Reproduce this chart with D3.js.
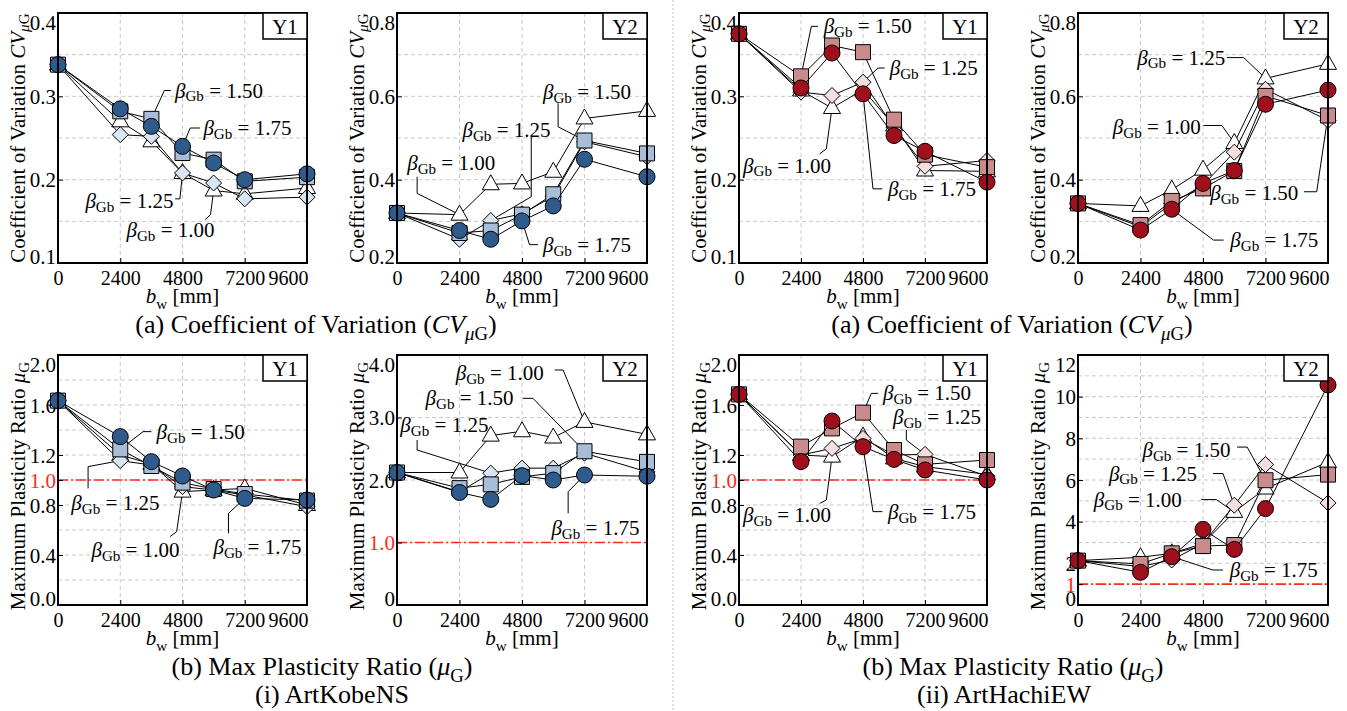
<!DOCTYPE html>
<html>
<head>
<meta charset="utf-8">
<script src="https://cdn.jsdelivr.net/npm/d3@7"></script>
<style>
 body{margin:0;background:#fff;}
 svg{display:block;font-family:"Liberation Serif","Times New Roman",serif;}
</style>
</head>
<body>
<div id="chartDiv"></div>
<script>
// x values (b_w, mm) shared by every panel
var bw = [0, 2400, 3600, 4800, 6000, 7200, 9600];
var bwTicks = [0, 2400, 4800, 7200, 9600];
// series order: beta_Gb = 1.00 (triangle), 1.25 (diamond), 1.50 (square), 1.75 (circle)
var betaGb = ["1.00", "1.25", "1.50", "1.75"];

var kobeCvY1 = [
 [0.338, 0.270, 0.246, 0.208, 0.187, 0.183, 0.190],
 [0.338, 0.254, 0.252, 0.208, 0.196, 0.177, 0.179],
 [0.338, 0.282, 0.273, 0.232, 0.224, 0.198, 0.203],
 [0.338, 0.285, 0.264, 0.240, 0.220, 0.200, 0.207]];
var kobeCvY2 = [
 [0.320, 0.316, 0.389, 0.391, 0.419, 0.547, 0.565],
 [0.320, 0.257, 0.302, 0.318, 0.360, 0.491, 0.455],
 [0.320, 0.272, 0.278, 0.316, 0.365, 0.494, 0.463],
 [0.320, 0.278, 0.257, 0.301, 0.337, 0.449, 0.407]];
var hachiCvY1 = [
 [0.375, 0.307, 0.286, 0.308, 0.265, 0.211, 0.210],
 [0.375, 0.305, 0.301, 0.317, 0.263, 0.216, 0.223],
 [0.375, 0.324, 0.361, 0.353, 0.272, 0.230, 0.215],
 [0.375, 0.310, 0.352, 0.303, 0.253, 0.234, 0.197]];
var hachiCvY2 = [
 [0.343, 0.337, 0.376, 0.424, 0.488, 0.643, 0.678],
 [0.343, 0.287, 0.343, 0.387, 0.466, 0.617, 0.542],
 [0.343, 0.291, 0.349, 0.379, 0.421, 0.601, 0.554],
 [0.343, 0.279, 0.329, 0.391, 0.422, 0.581, 0.615]];
var kobeMuY1 = [
 [1.635, 1.200, 1.128, 0.907, 0.920, 0.933, 0.800],
 [1.635, 1.155, 1.120, 0.947, 0.920, 0.880, 0.787],
 [1.635, 1.245, 1.112, 0.979, 0.928, 0.888, 0.835],
 [1.635, 1.347, 1.147, 1.032, 0.920, 0.853, 0.840]];
var kobeMuY2 = [
 [2.12, 2.12, 2.71, 2.78, 2.68, 2.93, 2.73],
 [2.12, 1.81, 2.11, 2.19, 2.19, 2.43, 2.13],
 [2.12, 1.87, 1.93, 2.05, 2.11, 2.46, 2.29],
 [2.12, 1.80, 1.69, 2.07, 2.00, 2.08, 2.06]];
var hachiMuY1 = [
 [1.685, 1.200, 1.187, 1.347, 1.173, 1.107, 1.045],
 [1.685, 1.200, 1.253, 1.333, 1.200, 1.205, 1.030],
 [1.685, 1.267, 1.413, 1.539, 1.240, 1.125, 1.160],
 [1.685, 1.147, 1.472, 1.267, 1.165, 1.080, 1.000]];
var hachiMuY2 = [
 [2.13, 2.29, 2.48, 2.95, 4.47, 5.59, 6.86],
 [2.13, 1.85, 2.16, 2.95, 4.79, 6.74, 4.90],
 [2.13, 1.97, 2.48, 2.83, 2.88, 5.99, 6.26],
 [2.13, 1.57, 2.32, 3.63, 2.67, 4.63, 10.56]];

// y tick labels
var cvTicksY1 = ["0.1", "0.2", "0.3", "0.4"];
var cvTicksY2 = ["0.2", "0.4", "0.6", "0.8"];
var muTicks2 = ["0.0", "0.4", "0.8", "1.2", "1.6", "2.0"];
var muTicks4 = ["0", "2.0", "3.0", "4.0"];
var muTicks12 = ["0", "2", "4", "6", "8", "10", "12"];

// annotations: [beta label, text x, text y, anchor, leader points, series, point index]
var kobeCvY1Notes = [
 ["1.50", 4510, 0.307, "start", [[4350, 0.307], [4100, 0.307]], 2, 2],
 ["1.75", 5606, 0.262, "start", [[5470, 0.262], [5100, 0.262]], 3, 3],
 ["1.25", 4450, 0.174, "end", [[4520, 0.177], [4700, 0.177]], 1, 3],
 ["1.00", 2640, 0.140, "start", [[5670, 0.152], [5880, 0.158]], 0, 4]];
var kobeCvY2Notes = [
 ["1.50", 5606, 0.611, "start", [[6186, 0.583], [6186, 0.527]], 2, 5],
 ["1.25", 2513, 0.519, "start", [[5155, 0.503], [5155, 0.359]], 1, 2],
 ["1.00", 390, 0.439, "start", [[773, 0.407], [773, 0.367]], 0, 1],
 ["1.75", 5606, 0.244, "start", [[5412, 0.244], [5090, 0.244]], 3, 3]];
var hachiCvY1Notes = [
 ["1.50", 3277, 0.384, "start", [[3058, 0.384], [2800, 0.384]], 2, 1],
 ["1.25", 5832, 0.334, "start", [[5638, 0.334], [5380, 0.334]], 1, 3],
 ["1.00", 155, 0.217, "start", [[3122, 0.231], [3380, 0.237]], 0, 2],
 ["1.75", 5767, 0.189, "start", [[5548, 0.189], [5187, 0.189]], 3, 3]];
var hachiCvY2Notes = [
 ["1.25", 5655, 0.693, "end", [[5720, 0.693], [6362, 0.693]], 0, 5],
 ["1.00", 4717, 0.526, "end", [[4820, 0.530], [5527, 0.530]], 0, 4],
 ["1.50", 5077, 0.367, "start", [[8676, 0.371], [9165, 0.371]], 2, 6],
 ["1.75", 5848, 0.255, "start", [[5591, 0.255], [5205, 0.255]], 3, 2]];
var kobeMuY1Notes = [
 ["1.50", 3802, 1.387, "start", [[3601, 1.387], [3279, 1.387]], 2, 1],
 ["1.25", 515, 0.813, "start", [[1160, 0.933], [1160, 1.107]], 1, 1],
 ["1.00", 1289, 0.440, "start", [[4317, 0.547], [4575, 0.587]], 0, 3],
 ["1.75", 5992, 0.467, "start", [[6572, 0.573], [6572, 0.733]], 3, 5]];
var kobeMuY2Notes = [
 ["1.00", 2255, 3.707, "start", [[6057, 3.76], [6379, 3.76]], 0, 5],
 ["1.50", 1095, 3.307, "start", [[4832, 3.307], [5219, 3.307]], 2, 5],
 ["1.25", 129, 2.880, "start", [[773, 2.64], [773, 2.48]], 1, 2],
 ["1.75", 5928, 1.227, "start", [[6572, 1.467], [6572, 1.813]], 3, 5]];
var hachiMuY1Notes = [
 ["1.50", 5574, 1.693, "start", [[5381, 1.693], [5123, 1.693]], 2, 3],
 ["1.25", 5961, 1.507, "start", [[6477, 1.40], [6477, 1.32]], 1, 5],
 ["1.00", 155, 0.720, "start", [[3122, 0.813], [3380, 0.84]], 0, 2],
 ["1.75", 5767, 0.747, "start", [[5548, 0.747], [5187, 0.747]], 3, 3]];
var hachiMuY2Notes = [
 ["1.50", 2474, 7.42, "start", [[6108, 7.58], [6495, 7.58]], 2, 5],
 ["1.25", 1186, 6.31, "start", [[5181, 6.31], [5568, 6.31]], 1, 4],
 ["1.00", 606, 5.06, "start", [[4732, 5.06], [5312, 5.06]], 0, 4],
 ["1.75", 5825, 1.68, "start", [[5567, 1.68], [5181, 1.68]], 3, 2]];

var bluePal = ["#ffffff", "#d8e5f3", "#a7bdd8", "#2f5b8c"];
var redPal  = ["#ffffff", "#f3dfde", "#c98b8c", "#a0101c"];

var colLeft = [58, 397, 739, 1078], colRight = [307, 647, 987, 1328];
var rowTop = [13, 355], rowBottom = [263, 605];
var FS = 21, TFS = 20;

var panels = [
 {col:0,row:0,tag:"Y1",data:kobeCvY1,notes:kobeCvY1Notes,pal:bluePal,dom:[0.1,0.4],ticks:cvTicksY1,grid:0.05,cv:true},
 {col:1,row:0,tag:"Y2",data:kobeCvY2,notes:kobeCvY2Notes,pal:bluePal,dom:[0.2,0.8],ticks:cvTicksY2,grid:0.1,cv:true},
 {col:2,row:0,tag:"Y1",data:hachiCvY1,notes:hachiCvY1Notes,pal:redPal,dom:[0.1,0.4],ticks:cvTicksY1,grid:0.05,cv:true},
 {col:3,row:0,tag:"Y2",data:hachiCvY2,notes:hachiCvY2Notes,pal:redPal,dom:[0.2,0.8],ticks:cvTicksY2,grid:0.1,cv:true},
 {col:0,row:1,tag:"Y1",data:kobeMuY1,notes:kobeMuY1Notes,pal:bluePal,dom:[0,2],ticks:muTicks2,grid:0.2,red:"1.0"},
 {col:1,row:1,tag:"Y2",data:kobeMuY2,notes:kobeMuY2Notes,pal:bluePal,dom:[0,4],ticks:muTicks4,grid:1,red:"1.0"},
 {col:2,row:1,tag:"Y1",data:hachiMuY1,notes:hachiMuY1Notes,pal:redPal,dom:[0,2],ticks:muTicks2,grid:0.2,red:"1.0"},
 {col:3,row:1,tag:"Y2",data:hachiMuY2,notes:hachiMuY2Notes,pal:redPal,dom:[0,12],ticks:muTicks12,grid:1,red:"1"}
];

var svg = d3.select("#chartDiv").append("svg").attr("width", 1347).attr("height", 711);
svg.append("rect").attr("width", 1347).attr("height", 711).attr("fill", "white");

function rich(g, parts, size){			//text with italic / subscript pieces
 var t = g.append("text").attr("font-size", size).attr("fill", "black");
 var shift = 0;
 parts.forEach(function(p){
  var target = p.sub ? size*0.28 : 0;
  var ts = t.append("tspan").attr("dy", target - shift).text(p.t);
  shift = target;
  if(p.sub) ts.attr("font-size", size*0.72);
  if(p.it) ts.attr("font-style", "italic");
 });
 return t;
}

function marker(g, k, color){			//0 triangle, 1 diamond, 2 square, 3 circle
 if(k == 3) return g.append("circle").attr("r", 8).attr("fill", color);
 var p = k == 0 ? "M0,-9.5L8.5,5.5L-8.5,5.5Z" :
         k == 1 ? "M0,-8L8,0L0,8L-8,0Z" : "M-7.5,-7.5H7.5V7.5H-7.5Z";
 return g.append("path").attr("d", p).attr("fill", color);
}

panels.forEach(function(P){
 var L = colLeft[P.col], R = colRight[P.col], T = rowTop[P.row], B = rowBottom[P.row];
 var x = d3.scaleLinear().domain([0, 9600]).range([L, R]);
 var y = d3.scaleLinear().domain(P.dom).range([B, T]);
 var g = svg.append("g");

 // grid
 var gv = d3.range(P.dom[0] + P.grid, P.dom[1] - P.grid/2, P.grid);
 g.selectAll(".hg").data(gv).enter().append("line")
  .attr("x1", L).attr("x2", R).attr("y1", d => y(d)).attr("y2", d => y(d))
  .attr("stroke", "#c8c8c8").attr("stroke-dasharray", "4,3");
 g.selectAll(".vg").data([2400, 4800, 7200]).enter().append("line")
  .attr("x1", d => x(d)).attr("x2", d => x(d)).attr("y1", T).attr("y2", B)
  .attr("stroke", "#c8c8c8").attr("stroke-dasharray", "4,3");

 // red reference line
 if(P.red){
  g.append("line").attr("x1", L).attr("x2", R).attr("y1", y(1)).attr("y2", y(1))
   .attr("stroke", "#ff2a1a").attr("stroke-width", 1.6).attr("stroke-dasharray", "10,3,2,3");
 }

 // axes: x
 var xa = g.append("g").attr("transform", "translate(0," + B + ")")
  .call(d3.axisBottom(x).tickValues(bwTicks).tickSize(-5).tickFormat(d3.format("d")))
  .attr("font-family", null).attr("font-size", null);
 xa.select(".domain").remove();
 xa.selectAll("line").attr("stroke", "black");
 xa.selectAll("text").attr("font-size", TFS).attr("fill", "black")
  .attr("y", 8).attr("dy", "0.71em")
  .attr("text-anchor", d => d == 9600 ? "end" : "middle")
  .attr("x", d => d == 9600 ? 1 : 0);

 // axes: y
 var tv = P.ticks.map(Number);
 if(P.red && tv.indexOf(1) < 0) tv.push(1);
 var ya = g.append("g").attr("transform", "translate(" + L + ",0)")
  .call(d3.axisLeft(y).tickValues(tv).tickSize(-5)
   .tickFormat(d => d == 1 && P.red ? P.red : P.ticks[P.ticks.map(Number).indexOf(d)]))
  .attr("font-family", null).attr("font-size", null);
 ya.select(".domain").remove();
 ya.selectAll("line").attr("stroke", "black");
 ya.selectAll("text").attr("font-size", FS)
  .attr("fill", d => d == 1 && P.red ? "#ff2a1a" : "black")
  .attr("x", -2).attr("dy", null).attr("dominant-baseline", "central")
  .attr("y", d => Math.max(T + 9 - y(d), Math.min(B - 7 - y(d), 0)));

 // y label
 var lab = g.append("g").attr("transform", "translate(" + (L - 40) + "," + ((T + B)/2 + (P.cv ? 0 : 6)) + ") rotate(-90)");
 (P.cv ? rich(lab, [{t:"Coefficient of Variation "}, {t:"CV", it:true}, {t:"\u03bc", it:true, sub:true}, {t:"G", sub:true}], FS)
       : rich(lab, [{t:"Maximum Plasticity Ratio "}, {t:"\u03bc", it:true}, {t:"G", sub:true}], FS))
  .attr("text-anchor", "middle").attr("dominant-baseline", "central");

 // x label
 var xl = g.append("g").attr("transform", "translate(" + (L + R)/2 + "," + (B + 40) + ")");
 rich(xl, [{t:"b", it:true}, {t:"w", sub:true}, {t:" [mm]"}], FS).attr("text-anchor", "middle");

 // annotations
 P.notes.forEach(function(n){
  var pts = n[4].concat([[bw[n[6]], P.data[n[5]][n[6]]]]);
  g.append("path").datum(pts)
   .attr("d", d3.line().x(d => x(d[0])).y(d => y(d[1])))
   .attr("fill", "none").attr("stroke", "black").attr("stroke-width", 1);
  var ng = g.append("g").attr("transform", "translate(" + x(n[1]) + "," + y(n[2]) + ")");
  rich(ng, [{t:"\u03b2", it:true}, {t:"Gb", sub:true}, {t:" = " + n[0]}], FS)
   .attr("text-anchor", n[3]).attr("dominant-baseline", "central");
 });

 // series
 P.data.forEach(function(vals, k){
  var pts = vals.map((v, i) => [bw[i], v]);
  g.append("path").datum(pts)
   .attr("d", d3.line().x(d => x(d[0])).y(d => y(d[1])))
   .attr("fill", "none").attr("stroke", "black").attr("stroke-width", 1);
  pts.forEach(function(p){
   marker(g.append("g").attr("transform", "translate(" + x(p[0]) + "," + y(p[1]) + ")"), k, P.pal[k])
    .attr("stroke", "black").attr("stroke-width", 1);
  });
 });

 // frame and tag box
 g.append("rect").attr("x", L).attr("y", T).attr("width", R - L).attr("height", B - T)
  .attr("fill", "none").attr("stroke", "black").attr("stroke-width", 2);
 g.append("rect").attr("x", R - 44).attr("y", T).attr("width", 44).attr("height", 26)
  .attr("fill", "white").attr("stroke", "black").attr("stroke-width", 1.5);
 g.append("text").attr("x", R - 22).attr("y", T + 14).attr("font-size", FS)
  .attr("text-anchor", "middle").attr("dominant-baseline", "central").text(P.tag);
});

// separator between the two records
svg.append("line").attr("x1", 673).attr("x2", 673).attr("y1", 0).attr("y2", 711)
 .attr("stroke", "#bdbdbd").attr("stroke-dasharray", "2,2");

// captions
var CFS = 26;
var capCv = [{t:"(a) Coefficient of Variation ("}, {t:"CV", it:true}, {t:"\u03bc", it:true, sub:true}, {t:"G", sub:true}, {t:")"}];
var capMu = [{t:"(b) Max Plasticity Ratio ("}, {t:"\u03bc", it:true}, {t:"G", sub:true}, {t:")"}];
[[316, 322, 332, "(i) ArtKobeNS"], [1012, 1013, 1004, "(ii) ArtHachiEW"]].forEach(function(c){
 var a = svg.append("g").attr("transform", "translate(" + c[0] + ",333)");
 rich(a, capCv, CFS).attr("text-anchor", "middle");
 var b = svg.append("g").attr("transform", "translate(" + c[1] + ",675)");
 rich(b, capMu, CFS).attr("text-anchor", "middle");
 svg.append("text").attr("x", c[2]).attr("y", 703).attr("font-size", CFS)
  .attr("text-anchor", "middle").text(c[3]);
});
</script>
</body>
</html>
